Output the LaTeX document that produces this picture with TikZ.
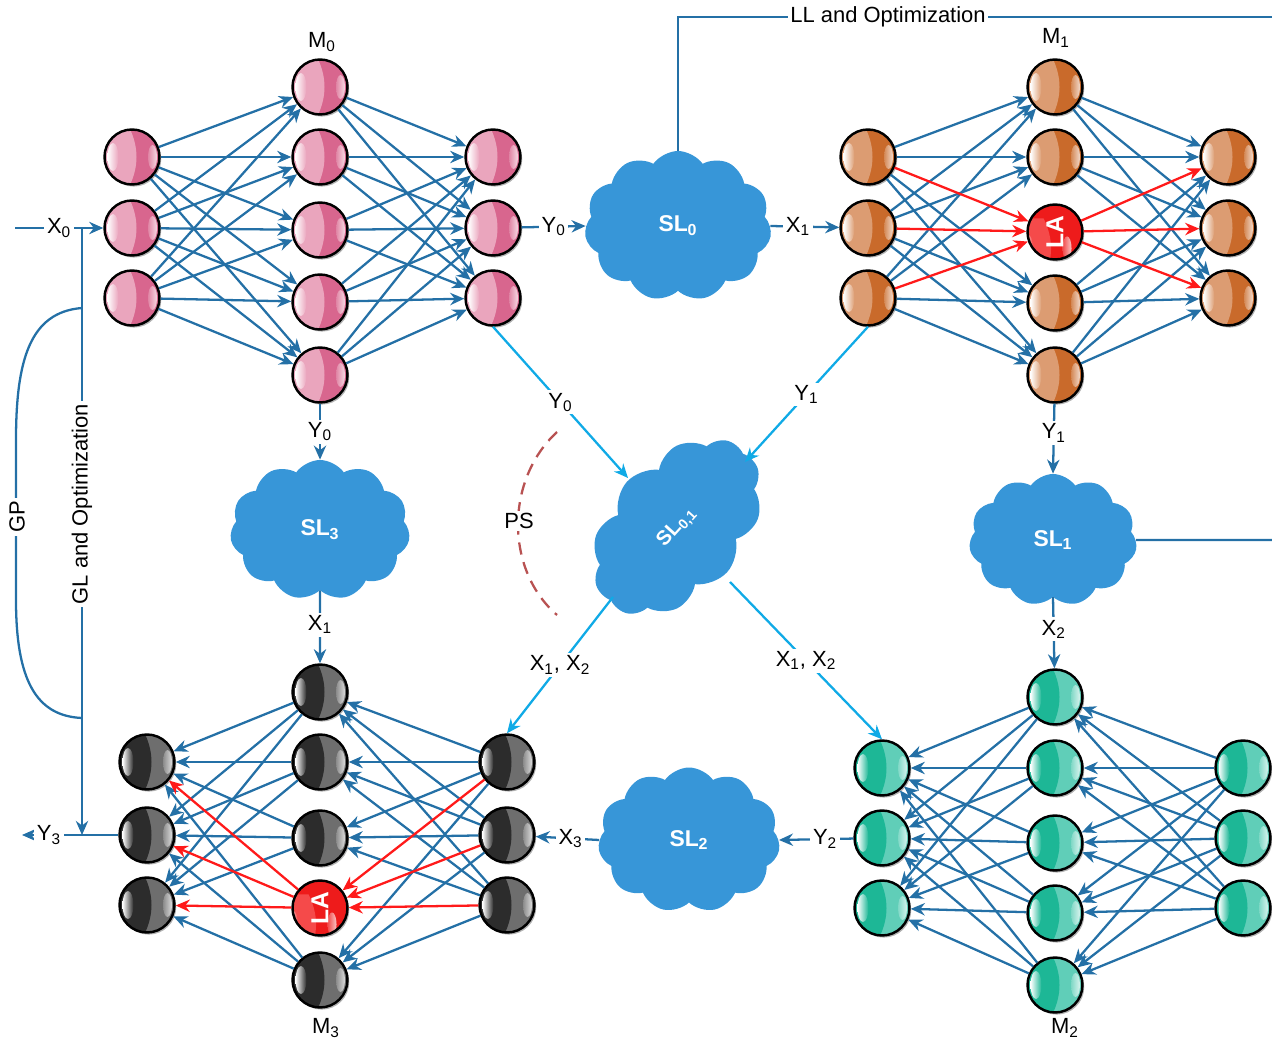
\documentclass[tikz,border=0pt]{standalone}
\usepackage{fontspec}
\setmainfont{Liberation Sans}
\usetikzlibrary{shapes.symbols,arrows.meta,shadows}
\definecolor{eblue}{HTML}{2470A6}
\definecolor{cyanl}{HTML}{10AAE6}
\definecolor{cloudblue}{HTML}{3796D8}
\definecolor{redl}{HTML}{FF1A1A}
\definecolor{psred}{HTML}{B85252}
\definecolor{pinkL}{HTML}{EAA5BD}
\definecolor{pinkR}{HTML}{D8668E}
\definecolor{orL}{HTML}{DC9C72}
\definecolor{orR}{HTML}{C96A2B}
\definecolor{blkL}{HTML}{2C2C2C}
\definecolor{blkR}{HTML}{6E6E6E}
\definecolor{tealL}{HTML}{1DB796}
\definecolor{tealR}{HTML}{60CEB8}
\definecolor{laL}{HTML}{F54A4A}
\definecolor{laR}{HTML}{EE1B1B}
\begin{document}
\begin{tikzpicture}[x=0.02cm,y=-0.02cm,
  ball/.style 2 args={circle, draw=black, line width=1.4pt, minimum size=1.1cm, inner sep=0pt, fill=#2,
    drop shadow={shadow xshift=1pt, shadow yshift=-1.2pt, opacity=0.3, fill=black},
    path picture={
      \begin{scope}[shift={(path picture bounding box.center)}]
        \fill[#1] (-3,-30) -- (-30,-30) -- (-30,30) -- (-3,30) .. controls (7,10) and (7,-10) .. (-3,-30);
        \shade[left color=white, right color=#1] (-19,0) ellipse (5.5 and 14);
        \shade[left color=#2!80!white, right color=#2!25!white] (20.5,0) ellipse (4.5 and 12);
      \end{scope}}},
  pinkball/.style={ball={pinkL}{pinkR}},
  orball/.style={ball={orL}{orR}},
  blkball/.style={ball={blkL}{blkR}},
  tealball/.style={ball={tealL}{tealR}},
  laball/.style={ball={laL}{laR}, text=white, font=\bfseries\fontsize{14}{16}\selectfont},
  nnedge/.style={draw=eblue, line width=1.3pt, -{Stealth[length=8pt,width=7pt]}},
  redge/.style={draw=redl, line width=1.3pt, -{Stealth[length=8pt,width=7pt]}},
  conn/.style={draw=eblue, line width=1.3pt},
  carr/.style={draw=eblue, line width=1.3pt, -{Stealth[length=8pt,width=7pt]}},
  cyarr/.style={draw=cyanl, line width=1.3pt, -{Stealth[length=8pt,width=7pt]}},
  lbl/.style={fill=white, inner sep=1.5pt, font=\fontsize{12.5}{15}\selectfont},
  tlbl/.style={inner sep=1pt, font=\fontsize{12.5}{15}\selectfont},
  cloudsty/.style={cloud, cloud puffs=11, cloud puff arc=110, cloud ignores aspect, fill=cloudblue, draw=none, text=white, font=\bfseries\fontsize{13}{15}\selectfont, inner sep=0pt}
]
\useasboundingbox (0,0) rectangle (1272,1040);

% ---------- clouds ----------
\node[cloudsty, minimum width=3.74cm, minimum height=3.0cm] (sl0) at (678,226) {SL\textsubscript{0}};
\node[cloudsty, minimum width=3.6cm, minimum height=2.8cm] (sl3) at (320,530) {SL\textsubscript{3}};
\node[cloudsty, minimum width=3.36cm, minimum height=2.64cm] (sl1) at (1053,540) {SL\textsubscript{1}};
\node[cloudsty, minimum width=3.64cm, minimum height=2.9cm] (sl2) at (689,840) {SL\textsubscript{2}};
\node[cloudsty, cloud puffs=10, minimum width=4.1cm, minimum height=2.7cm, rotate=48, font=\bfseries\fontsize{11.5}{14}\selectfont] (sl01) at (677,527) {SL\textsubscript{0,1}};

% ---------- M0 ----------
\foreach \y [count=\i] in {157,228,298} \node[pinkball] (m0i\i) at (132,\y) {};
\foreach \y [count=\i] in {87,157,230,302,375} \node[pinkball] (m0h\i) at (320,\y) {};
\foreach \y [count=\i] in {157,228,298} \node[pinkball] (m0o\i) at (493,\y) {};
\foreach \i in {1,2,3} \foreach \j in {1,...,5} \draw[nnedge] (m0i\i) -- (m0h\j);
\foreach \j in {1,...,5} \foreach \k in {1,2,3} \draw[nnedge] (m0h\j) -- (m0o\k);
\node[tlbl] (m0lab) at (322,42) {M\textsubscript{0}};

% ---------- M1 ----------
\foreach \y [count=\i] in {157,228,298} \node[orball] (m1i\i) at (868,\y) {};
\node[orball] (m1h1) at (1055,87) {};
\node[orball] (m1h2) at (1055,157) {};
\node[laball] (m1h3) at (1055,232) {\rotatebox{90}{LA}};
\node[orball] (m1h4) at (1055,303) {};
\node[orball] (m1h5) at (1055,375) {};
\foreach \y [count=\i] in {157,228,298} \node[orball] (m1o\i) at (1228,\y) {};
\foreach \i in {1,2,3} \foreach \j in {1,2,4,5} \draw[nnedge] (m1i\i) -- (m1h\j);
\foreach \j in {1,2,4,5} \foreach \k in {1,2,3} \draw[nnedge] (m1h\j) -- (m1o\k);
\foreach \i in {1,2,3} \draw[redge] (m1i\i) -- (m1h3);
\foreach \k in {1,2,3} \draw[redge] (m1h3) -- (m1o\k);
\node[tlbl] (m1lab) at (1056,38) {M\textsubscript{1}};

% ---------- M2 ----------
\foreach \y [count=\i] in {768,838,908} \node[tealball] (m2l\i) at (882,\y) {};
\foreach \y [count=\i] in {697,768,843,913,985} \node[tealball] (m2h\i) at (1055,\y) {};
\foreach \y [count=\i] in {768,838,908} \node[tealball] (m2r\i) at (1243,\y) {};
\foreach \i in {1,2,3} \foreach \j in {1,...,5} \draw[nnedge] (m2r\i) -- (m2h\j);
\foreach \j in {1,...,5} \foreach \k in {1,2,3} \draw[nnedge] (m2h\j) -- (m2l\k);
\node[tlbl] (m2lab) at (1065,1028) {M\textsubscript{2}};

% ---------- M3 ----------
\foreach \y [count=\i] in {762,835,905} \node[blkball] (m3l\i) at (147,\y) {};
\node[blkball] (m3h1) at (320,692) {};
\node[blkball] (m3h2) at (320,762) {};
\node[blkball] (m3h3) at (320,838) {};
\node[laball] (m3h4) at (320,908) {\rotatebox{90}{LA}};
\node[blkball] (m3h5) at (320,980) {};
\foreach \y [count=\i] in {762,835,905} \node[blkball] (m3r\i) at (507,\y) {};
\foreach \i in {1,2,3} \foreach \j in {1,2,3,5} \draw[nnedge] (m3r\i) -- (m3h\j);
\foreach \j in {1,2,3,5} \foreach \k in {1,2,3} \draw[nnedge] (m3h\j) -- (m3l\k);
\foreach \i in {1,2,3} \draw[redge] (m3r\i) -- (m3h4);
\foreach \k in {1,2,3} \draw[redge] (m3h4) -- (m3l\k);
\node[tlbl] (m3lab) at (326,1028) {M\textsubscript{3}};

% ---------- main flow connectors ----------
\coordinate (x0start) at (15,228);
\draw[carr] (x0start) -- node[lbl, pos=0.5] {X\textsubscript{0}} (m0i2);
\draw[carr] (m0o2) -- node[lbl, pos=0.5] {Y\textsubscript{0}} (sl0.west);
\draw[carr] (sl0.east) -- node[lbl, pos=0.4] {X\textsubscript{1}} (m1i2);
\draw[carr] (m1h5) -- node[lbl, pos=0.42] {Y\textsubscript{1}} (sl1.north);
\draw[carr] (sl1.south) -- node[lbl, pos=0.45] {X\textsubscript{2}} (m2h1);
\draw[carr] (m2l2) -- node[lbl, pos=0.38] {Y\textsubscript{2}} (sl2.east);
\draw[carr] (sl2.west) -- node[lbl, pos=0.45] {X\textsubscript{3}} (m3r2);
\draw[carr] (m0h5) -- node[lbl, pos=0.5] {Y\textsubscript{0}} (sl3.north);
\draw[carr] (sl3.south) -- node[lbl, pos=0.47] {X\textsubscript{1}} (m3h1);
\coordinate (y3end) at (22,835);
\draw[carr] (m3l2) -- node[lbl, pos=0.72] {Y\textsubscript{3}} (y3end);

% LL and Optimization
\coordinate (llend) at (1272,17);
\draw[conn] (sl0.north) |- (llend);
\node[lbl] (ll) at (888,17) {LL and Optimization};
% SL1 to right
\coordinate (sl1end) at (1272,540);
\draw[conn] (sl1.east) -- (sl1end);

% GL and GP
\coordinate (glTop) at (82,228);
\coordinate (glBot) at (82,835);
\draw[carr] (glTop) -- node[lbl, rotate=90, pos=0.455] {GL and Optimization} (glBot);
\coordinate (gpA) at (82,308);
\coordinate (gpB) at (82,718);
\draw[conn] (gpA) .. controls (30,312) and (16,360) .. (16,440) -- (16,600) .. controls (16,680) and (36,716) .. (gpB);
\node[lbl, rotate=90] (gp) at (17,517) {GP};

% ---------- cyan connectors ----------
\coordinate (sl01a) at (628,478);
\coordinate (sl01b) at (745,462);
\coordinate (sl01c) at (613,597);
\coordinate (sl01d) at (730,582);
\draw[cyarr] (m0o3.south) -- node[lbl, pos=0.5] {Y\textsubscript{0}} (sl01a);
\draw[cyarr] (m1i3.south) -- node[lbl, pos=0.5] {Y\textsubscript{1}} (sl01b);
\draw[cyarr] (sl01c) -- node[lbl, pos=0.5] {X\textsubscript{1}, X\textsubscript{2}} (m3r1.north);
\draw[cyarr] (sl01d) -- node[lbl, pos=0.5] {X\textsubscript{1}, X\textsubscript{2}} (m2l1.north);

% PS
\coordinate (psA) at (557,432);
\coordinate (psB) at (557,615);
\draw[psred, line width=1.3pt, dash pattern=on 7pt off 4.5pt] (psA) .. controls (505,480) and (505,570) .. (psB);
\node[lbl] (ps) at (519,521) {PS};
\end{tikzpicture}
\end{document}
